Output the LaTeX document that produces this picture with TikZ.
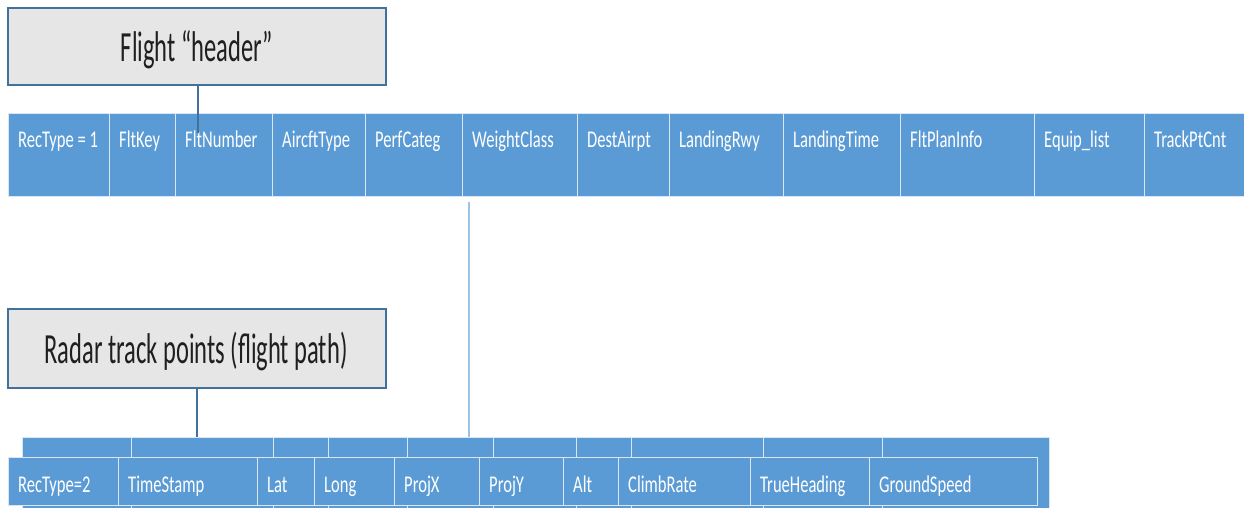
\documentclass[tikz,border=0pt]{standalone}
\usepackage{fontspec}
\usepackage{graphicx}
\setmainfont{Carlito}
\usetikzlibrary{calc}

\definecolor{cellblue}{HTML}{5B9BD5}
\definecolor{cellline}{HTML}{D9E7F5}
\definecolor{boxgray}{HTML}{E6E6E6}
\definecolor{boxline}{HTML}{41719C}
\definecolor{lightlink}{HTML}{9DC3E6}

% horizontally condensed text
\newcommand\narrow[2]{\scalebox{#1}[1]{#2}}

% record field: name, left, top, right, bottom, baseline offset, label
\newcommand\fieldcell[7]{%
  \node[cellbox, anchor=north west,
        minimum width={(#4-#2)*1pt}, minimum height={(#5-#3)*1pt}] (#1) at (#2,#3) {};
  \node[celltext] (#1-t) at ($(#1.north west)+(10,#6)$) {\narrow{0.69}{#7}};%
}
% plain field without label: name, left, top, right, bottom
\newcommand\blankcell[5]{%
  \node[cellbox, anchor=north west,
        minimum width={(#4-#2)*1pt}, minimum height={(#5-#3)*1pt}] (#1) at (#2,#3) {};%
}

\begin{document}
\begin{tikzpicture}[x=1pt,y=-1pt,
  cellbox/.style={draw=cellline, line width=1pt, fill=cellblue, inner sep=0pt, outer sep=0pt},
  celltext/.style={text=white, inner sep=0pt, anchor=base west, font=\fontsize{24}{24}\selectfont},
  titlebox/.style={draw=boxline, line width=1.5pt, fill=boxgray, inner sep=0pt, outer sep=0pt,
                   anchor=north west},
  titletext/.style={inner sep=0pt, anchor=base, font=\fontsize{43}{43}\selectfont, text=black!88},
  darklink/.style={draw=boxline, line width=1.2pt},
  palelink/.style={draw=lightlink, line width=1.2pt}]

\useasboundingbox (0,0) rectangle (1244,508);

% ---- flight header record ----
\node[titlebox, minimum width=378pt, minimum height=77pt] (h1) at (8,8) {};
\node[titletext] (h1-t) at (197,62) {\narrow{0.57}{Flight “header”}};

\fieldcell{rt1}{8}{114}{109}{196}{33}{RecType = 1}
\fieldcell{fk}{109}{114}{175}{196}{33}{FltKey}
\fieldcell{fn}{175}{114}{272}{196}{33}{FltNumber}
\fieldcell{act}{272}{114}{365}{196}{33}{AircftType}
\fieldcell{pc}{365}{114}{462}{196}{33}{PerfCateg}
\fieldcell{wc}{462}{114}{577}{196}{33}{WeightClass}
\fieldcell{da}{577}{114}{669}{196}{33}{DestAirpt}
\fieldcell{lr}{669}{114}{783}{196}{33}{LandingRwy}
\fieldcell{lt}{783}{114}{900}{196}{33}{LandingTime}
\fieldcell{fp}{900}{114}{1034}{196}{33}{FltPlanInfo}
\fieldcell{eq}{1034}{114}{1144}{196}{33}{Equip\_list}
\fieldcell{tc}{1144}{114}{1246}{196}{33}{TrackPtCnt}

\coordinate (h1end) at (198,133);
\draw[darklink] (h1.south -| h1end) -- (h1end);

% ---- radar track point records ----
\node[titlebox, minimum width=378pt, minimum height=79pt] (h2) at (8,309) {};
\node[titletext] (h2-t) at (196,363) {\narrow{0.57}{Radar track points (flight path)}};

% stacked record behind
\blankcell{b1}{22}{437}{131}{508}
\blankcell{b2}{131}{437}{273}{508}
\blankcell{b3}{273}{437}{328}{508}
\blankcell{b4}{328}{437}{407}{508}
\blankcell{b5}{407}{437}{493}{508}
\blankcell{b6}{493}{437}{576}{508}
\blankcell{b7}{576}{437}{631}{508}
\blankcell{b8}{631}{437}{763}{508}
\blankcell{b9}{763}{437}{882}{508}
\blankcell{b10}{882}{437}{1049}{508}

% front record
\fieldcell{rt2}{8}{457}{118}{505}{35}{RecType=2}
\fieldcell{ts}{118}{457}{257}{505}{35}{TimeStamp}
\fieldcell{lat}{257}{457}{314}{505}{35}{Lat}
\fieldcell{lon}{314}{457}{394}{505}{35}{Long}
\fieldcell{px}{394}{457}{479}{505}{35}{ProjX}
\fieldcell{py}{479}{457}{563}{505}{35}{ProjY}
\fieldcell{alt}{563}{457}{618}{505}{35}{Alt}
\fieldcell{cr}{618}{457}{750}{505}{35}{ClimbRate}
\fieldcell{th}{750}{457}{869}{505}{35}{TrueHeading}
\fieldcell{gs}{869}{457}{1037}{505}{35}{GroundSpeed}

\draw[darklink] (h2.south) -- (h2.south |- b2.north);

\coordinate (paletop) at (469,202);
\draw[palelink] (paletop) -- (paletop |- b5.north);

\end{tikzpicture}
\end{document}
